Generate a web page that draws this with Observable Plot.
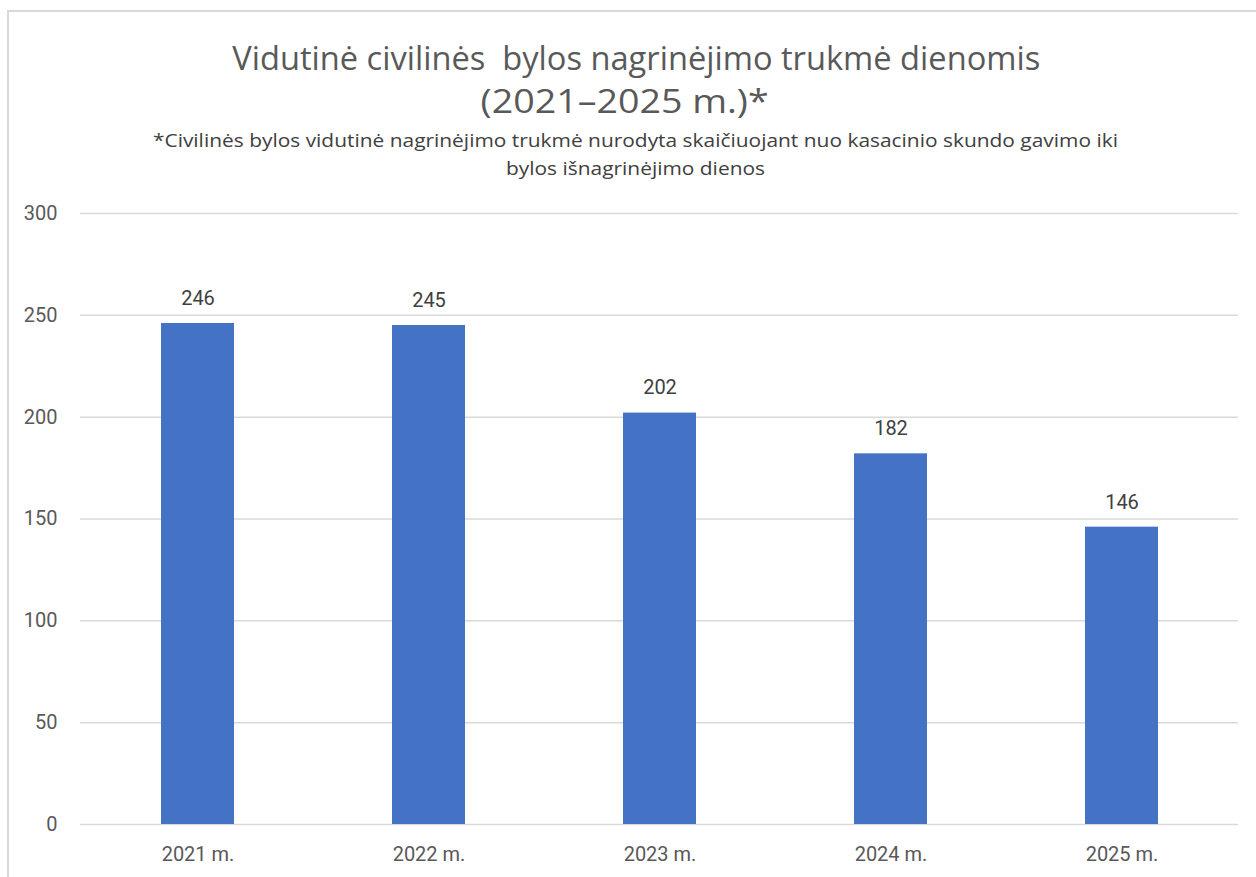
<!DOCTYPE html>
<html>
<head>
<meta charset="utf-8">
<script src="https://cdn.jsdelivr.net/npm/d3@7"></script>
<script src="https://cdn.jsdelivr.net/npm/@observablehq/plot@0.6"></script>
<style>
  html, body { margin: 0; padding: 0; background: #fff; }
  #page { position: relative; width: 1256px; height: 877px; overflow: hidden; }
  #frame { position: absolute; left: 7px; top: 10px; width: 1270px; height: 890px; border: 2px solid #d9d9d9; box-sizing: border-box; }
  #head { position: relative; height: 190px; text-align: center; }
  .line { position: absolute; width: 1256px; text-align: center; white-space: pre; }
  .line span { display: inline-block; transform-origin: center center; }
  .t { font-family: "Open Sans", sans-serif; font-size: 32px; color: #595959; line-height: 43px; height: 43px; }
  .s { font-family: "Open Sans", sans-serif; font-size: 18px; color: #404040; line-height: 28px; height: 28px; }
  #chart { position: relative; }
</style>
</head>
<body>
<div id="page">
  <div id="frame"></div>
  <div id="head"></div>
  <div id="chart"></div>
</div>
<script>
const titleLines = ["Vidutinė civilinės  bylos nagrinėjimo trukmė dienomis", "(2021–2025 m.)*"];
const subtitleLines = ["*Civilinės bylos vidutinė nagrinėjimo trukmė nurodyta skaičiuojant nuo kasacinio skundo gavimo iki", "bylos išnagrinėjimo dienos"];
const years = ["2021 m.", "2022 m.", "2023 m.", "2024 m.", "2025 m."];
const values = [246, 245, 202, 182, 146];
const yTicks = [0, 50, 100, 150, 200, 250, 300];

const data = years.map((y, i) => ({year: y, value: values[i]}));

// header
const head = document.getElementById("head");
const specs = [
  {text: titleLines[0], cls: "t", top: 35.5, w: 808, c: 636},
  {text: titleLines[1], cls: "t", top: 78.5, w: 288, c: 625},
  {text: subtitleLines[0], cls: "s", top: 126, w: 965, c: 635.5},
  {text: subtitleLines[1], cls: "s", top: 154, w: 259, c: 635.5}
];
for (const s of specs) {
  const d = document.createElement("div");
  d.className = "line " + s.cls;
  d.style.top = s.top + "px";
  d.style.left = (s.c - 628) + "px";
  const sp = document.createElement("span");
  sp.textContent = s.text;
  d.appendChild(sp);
  head.appendChild(d);
  const nat = sp.getBoundingClientRect().width;
  if (nat > 0) sp.style.transform = `scaleX(${s.w / nat})`;
}

const chart = Plot.plot({
  width: 1256,
  height: 687,
  marginTop: 23,
  marginBottom: 53,
  marginLeft: 80,
  marginRight: 18,
  style: {fontFamily: "Roboto, sans-serif", fontSize: "20px", color: "#595959", background: "transparent"},
  x: {domain: years, paddingInner: 0.685, paddingOuter: 0.3425, label: null},
  y: {domain: [0, 300], label: null},
  marks: [
    Plot.gridY(yTicks, {stroke: "#d9d9d9", strokeOpacity: 1, strokeWidth: 1.5}),
    Plot.barY(data, {x: "year", y: "value", fill: "#4472c4"}),
    Plot.text(data, {x: "year", y: "value", text: d => String(d.value), dy: -25, fill: "#404040", fontSize: 20}),
    Plot.axisX({tickSize: 0, tickPadding: 22, fontSize: 20, fill: "#595959", label: null}),
    Plot.axisY(yTicks, {tickSize: 0, tickPadding: 23, fontSize: 20, fill: "#595959", label: null})
  ]
});
document.getElementById("chart").appendChild(chart);
</script>
</body>
</html>
